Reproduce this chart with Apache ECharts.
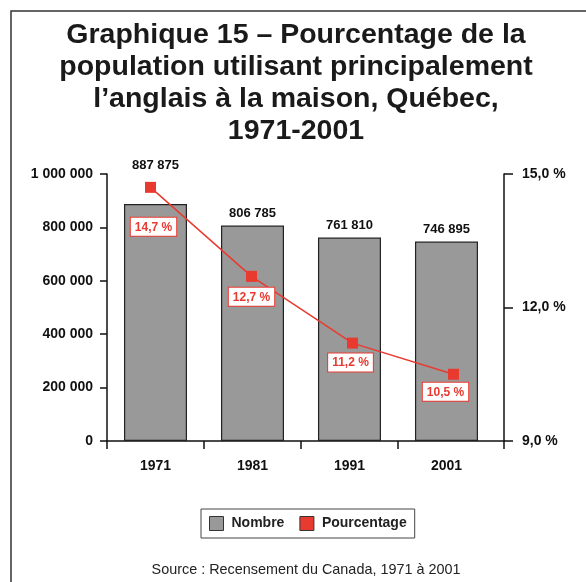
<!DOCTYPE html>
<html><head><meta charset="utf-8">
<script src="https://cdn.jsdelivr.net/npm/echarts@6/dist/echarts.min.js"></script>
<style>html,body{margin:0;padding:0;background:#fff}#c{width:586px;height:582px}</style>
</head><body><div id="c"></div>
<script>
const years = ['1971', '1981', '1991', '2001'];
const nombre = [887875, 806785, 761810, 746895];
const pourcentage = [14.7, 12.7, 11.2, 10.5];
const leftTicks = [0, 200000, 400000, 600000, 800000, 1000000];
const rightTicks = [9, 12, 15];
const titleLines = ['Graphique 15 – Pourcentage de la', 'population utilisant principalement', 'l’anglais à la maison, Québec,', '1971-2001'];
const sourceText = 'Source : Recensement du Canada, 1971 à 2001';
const seriesNames = ['Nombre', 'Pourcentage'];

const FONT = '"Liberation Sans", Arial, Helvetica, sans-serif';
const INK = '#111';
const RED = '#e93a30';
const fmtNum = v => String(Math.round(v)).replace(/\B(?=(\d{3})+(?!\d))/g, ' ');
const fmtPct = v => v.toFixed(1).replace('.', ',') + ' %';

const X_MIN = -0.5, X_MAX = 3.593;
const barLabelOffsets = [[0, -26], [0, 0], [0, 0], [0, 0]];
const pctLabelOffsets = [[3, 21], [0, 2], [-2, 1], [-8, -1]];

const chart = echarts.init(document.getElementById('c'), null, {renderer: 'canvas'});
chart.setOption({
  backgroundColor: '#fff',
  animation: false,
  textStyle: {fontFamily: FONT},
  title: [{
    text: titleLines.join('\n'),
    left: 291, top: 14, textAlign: 'center',
    textStyle: {fontFamily: FONT, fontSize: 28.5, fontWeight: 'bold', lineHeight: 32, color: '#1a1a1a'}
  }, {
    text: sourceText,
    left: 301, top: 558, textAlign: 'center',
    textStyle: {fontFamily: FONT, fontSize: 14.4, fontWeight: 'normal', color: '#222'}
  }],
  graphic: [{
    type: 'rect', silent: true,
    shape: {x: 11, y: 11, width: 640, height: 640},
    style: {fill: 'none', stroke: '#333', lineWidth: 1.5}
  }],
  legend: {
    left: 201, top: 509,
    icon: 'rect', itemWidth: 14, itemHeight: 14, itemGap: 15,
    padding: [7, 8, 7, 8],
    borderColor: '#444', borderWidth: 1,
    textStyle: {fontFamily: FONT, fontSize: 14, fontWeight: 'bold', color: '#222', padding: [0, 0, 0, 3]},
    data: [
      {name: seriesNames[0], itemStyle: {color: '#999999', borderColor: '#333', borderWidth: 1}},
      {name: seriesNames[1], itemStyle: {color: RED, borderColor: '#333', borderWidth: 1}}
    ]
  },
  grid: [
    {left: 107, top: 174, width: 397, height: 267},
    {left: 100, top: 174, width: 404, height: 267}
  ],
  xAxis: [{
    type: 'value', gridIndex: 0, min: X_MIN, max: X_MAX,
    splitLine: {show: false},
    axisLine: {show: true, onZero: false, lineStyle: {color: INK, width: 1.5}},
    axisTick: {show: true, length: 8, lineStyle: {color: INK, width: 1.5},
      customValues: [X_MIN, 0.5, 1.5, 2.5, X_MAX]},
    axisLabel: {show: true, margin: 18, fontFamily: FONT, fontSize: 14, fontWeight: 'bold', color: INK,
      customValues: years.map((y, i) => i),
      formatter: v => years[Math.round(v)] || ''}
  }, {
    type: 'category', gridIndex: 1, data: years, show: false
  }],
  yAxis: [{
    type: 'value', gridIndex: 0, position: 'left',
    min: leftTicks[0], max: leftTicks[leftTicks.length - 1], interval: leftTicks[1] - leftTicks[0],
    splitLine: {show: false},
    axisLine: {show: true, onZero: false, lineStyle: {color: INK, width: 1.5}},
    axisTick: {show: true, length: 7, lineStyle: {color: INK, width: 1.5}},
    axisLabel: {margin: 14, fontFamily: FONT, fontSize: 14, fontWeight: 'bold', color: INK, formatter: fmtNum}
  }, {
    type: 'value', gridIndex: 1, position: 'right',
    min: rightTicks[0], max: rightTicks[rightTicks.length - 1], interval: rightTicks[1] - rightTicks[0],
    splitLine: {show: false},
    axisLine: {show: true, onZero: false, lineStyle: {color: INK, width: 1.5}},
    axisTick: {show: true, length: 9, lineStyle: {color: INK, width: 1.5}},
    axisLabel: {margin: 18, fontFamily: FONT, fontSize: 14, fontWeight: 'bold', color: INK, formatter: fmtPct}
  }],
  series: [{
    name: seriesNames[0], type: 'bar', xAxisIndex: 0, yAxisIndex: 0,
    barWidth: 63,
    itemStyle: {color: '#999999', borderColor: '#222', borderWidth: 1.2},
    label: {show: true, position: 'top', distance: 6, fontFamily: FONT, fontSize: 13, fontWeight: 'bold', color: INK,
      formatter: p => fmtNum(p.value[1])},
    data: nombre.map((v, i) => ({value: [i, v], label: {offset: barLabelOffsets[i]}}))
  }, {
    name: seriesNames[1], type: 'line', xAxisIndex: 1, yAxisIndex: 1,
    symbol: 'rect', symbolSize: 11,
    lineStyle: {color: RED, width: 1.5},
    itemStyle: {color: RED},
    label: {show: true, position: 'bottom', distance: 4, fontFamily: FONT, fontSize: 12, fontWeight: 'bold',
      color: RED, backgroundColor: '#fff', borderColor: RED, borderWidth: 1, padding: [3, 4, 2, 4], lineHeight: 13,
      formatter: p => fmtPct(p.value)},
    data: pourcentage.map((v, i) => ({value: v, label: {offset: pctLabelOffsets[i]}})),
    z: 5
  }]
});
</script></body></html>
